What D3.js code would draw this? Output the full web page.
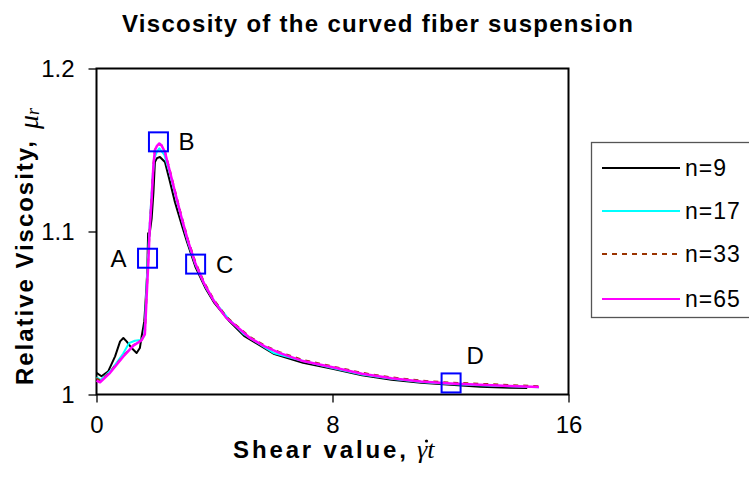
<!DOCTYPE html>
<html>
<head>
<meta charset="utf-8">
<script src="https://cdn.jsdelivr.net/npm/d3@7"></script>
<style>
body { margin: 0; background: #fff; }
text { font-family: Arial, "Liberation Sans", sans-serif; }
</style>
</head>
<body>
<script>
var w = 749;
var h = 481;

// series: shear value (x) and relative viscosity (y)
var seriesNames = ["n=9", "n=17", "n=33", "n=65"];

var n9X = [0, 0.17, 0.4, 0.63, 0.8, 0.91, 1.02, 1.19, 1.36, 1.47, 1.53, 1.59, 1.62, 1.66, 1.72, 1.75, 1.79, 1.87, 1.93, 1.98, 2.05, 2.15, 2.32, 2.49, 2.66, 2.89, 3.06, 3.36, 3.7, 4.0, 4.5, 5, 6, 7, 8, 9, 10, 11, 12, 13, 14, 14.6];
var n9Y = [1.0133, 1.0112, 1.0143, 1.0234, 1.0326, 1.0347, 1.0326, 1.0285, 1.0255, 1.0285, 1.0357, 1.0418, 1.045, 1.056, 1.075, 1.099, 1.097, 1.108, 1.124, 1.1426, 1.145, 1.1457, 1.1426, 1.1305, 1.118, 1.104, 1.094, 1.078, 1.065, 1.056, 1.045, 1.036, 1.025, 1.0195, 1.0158, 1.0118, 1.009, 1.0072, 1.006, 1.0048, 1.0041, 1.004];

var n17X = [0, 0.15, 0.5, 0.9, 1.1, 1.3, 1.5, 1.62, 1.66, 1.72, 1.78, 1.84, 1.9, 1.96, 2.05, 2.13, 2.3, 2.49, 2.66, 2.89, 3.1, 3.36, 3.7, 4.0, 4.5, 5, 6, 7, 8, 9, 10, 11, 12, 13, 14, 15];
var n17Y = [1.0105, 1.009, 1.015, 1.025, 1.0315, 1.033, 1.0335, 1.036, 1.05, 1.075, 1.097, 1.115, 1.133, 1.145, 1.149, 1.151, 1.147, 1.1355, 1.1235, 1.1075, 1.0935, 1.0795, 1.066, 1.057, 1.046, 1.037, 1.0255, 1.0205, 1.0163, 1.0123, 1.0097, 1.0077, 1.0065, 1.0057, 1.005, 1.0044];

var n33X = [0, 0.12, 0.46, 0.91, 1.25, 1.53, 1.64, 1.7, 1.76, 1.81, 1.87, 1.93, 1.98, 2.05, 2.13, 2.2, 2.32, 2.49, 2.66, 2.89, 3.11, 3.36, 3.65, 3.96, 4.4, 4.86, 5.2, 5.7, 6.2, 7, 8, 9, 10, 11, 12, 13, 14, 15];
var n33Y = [1.01, 1.0085, 1.0138, 1.0237, 1.0302, 1.0335, 1.0372, 1.062, 1.085, 1.105, 1.121, 1.1412, 1.15, 1.1523, 1.1535, 1.153, 1.149, 1.1372, 1.125, 1.1088, 1.0945, 1.0808, 1.0687, 1.0587, 1.0477, 1.0406, 1.0353, 1.03, 1.026, 1.0212, 1.0172, 1.0133, 1.0105, 1.0085, 1.0073, 1.0066, 1.0058, 1.0051];

var n65X = [0, 0.12, 0.46, 0.91, 1.25, 1.53, 1.64, 1.7, 1.76, 1.81, 1.87, 1.93, 1.98, 2.05, 2.13, 2.2, 2.32, 2.49, 2.66, 2.89, 3.11, 3.36, 3.65, 3.96, 4.4, 4.86, 5.2, 5.7, 6.2, 7, 8, 9, 10, 11, 12, 13, 14, 15];
var n65Y = [1.0085, 1.0075, 1.0133, 1.0234, 1.03, 1.0333, 1.037, 1.06, 1.0826, 1.104, 1.12, 1.1407, 1.15, 1.1525, 1.154, 1.153, 1.1488, 1.1366, 1.1244, 1.108, 1.0938, 1.08, 1.068, 1.058, 1.047, 1.04, 1.0347, 1.0295, 1.0255, 1.0205, 1.0167, 1.0127, 1.01, 1.008, 1.0068, 1.006, 1.0052, 1.0046];

var seriesColors = ["#000000", "#00ffff", "#993300", "#ff00ff"];

// marked points
var markLabels = ["A", "B", "C", "D"];
var markX = [1.73, 2.10, 3.36, 12.02];
var markY = [1.0836, 1.155, 1.080, 1.0071];

var xTicks = [0, 8, 16];
var yTicks = [1, 1.1, 1.2];

var series = [
    {name: seriesNames[0], xs: n9X, ys: n9Y, color: seriesColors[0], width: 2, dash: null},
    {name: seriesNames[1], xs: n17X, ys: n17Y, color: seriesColors[1], width: 2, dash: null},
    {name: seriesNames[2], xs: n33X, ys: n33Y, color: seriesColors[2], width: 2, dash: "5,5"},
    {name: seriesNames[3], xs: n65X, ys: n65Y, color: seriesColors[3], width: 2.5, dash: null}
];

var svg = d3.select("body")
    .append("svg")
    .attr("width", w)
    .attr("height", h);

var x = d3.scaleLinear().domain([0, 16]).range([96.5, 568.5]);
var y = d3.scaleLinear().domain([1, 1.2]).range([394.5, 68.5]);

var serif = "'Times New Roman', 'Liberation Serif', serif";

// title
svg.append("text")
    .attr("x", 122)
    .attr("y", 32)
    .attr("textLength", 511)
    .attr("lengthAdjust", "spacing")
    .style("font-size", "24px")
    .style("font-weight", "bold")
    .text("Viscosity of the curved fiber suspension");

// frame
svg.append("rect")
    .attr("x", x(0))
    .attr("y", y(1.2))
    .attr("width", x(16) - x(0))
    .attr("height", y(1) - y(1.2))
    .attr("fill", "none")
    .attr("stroke", "#000")
    .attr("stroke-width", 2);

var xAxis = d3.axisBottom(x).tickValues(xTicks).tickSize(8).tickPadding(13).tickFormat(d3.format("d"));
var yAxis = d3.axisLeft(y).tickValues(yTicks).tickSize(8).tickPadding(14).tickFormat(function(d){
    return d == 1 ? "1" : d3.format(".1f")(d);
});

var gx = svg.append("g")
    .attr("transform", "translate(0," + y(1) + ")")
    .call(xAxis);
var gy = svg.append("g")
    .attr("transform", "translate(" + x(0) + ",0)")
    .call(yAxis);

[gx, gy].forEach(function(g){
    g.select(".domain").remove();
    g.selectAll("line").attr("stroke", "#000").attr("stroke-width", 1.3);
    g.selectAll("text")
        .style("font-size", "24px")
        .style("font-family", "Arial, 'Liberation Sans', sans-serif")
        .attr("fill", "#000");
});

// axis titles
svg.append("text")
    .attr("x", 233)
    .attr("y", 458)
    .attr("textLength", 173)
    .attr("lengthAdjust", "spacing")
    .style("font-size", "24px")
    .style("font-weight", "bold")
    .text("Shear value,");
svg.append("text")
    .attr("x", 417)
    .attr("y", 458)
    .style("font-family", serif)
    .style("font-style", "italic")
    .style("font-size", "26px")
    .text("\u03b3t");
svg.append("circle")
    .attr("cx", 426.5)
    .attr("cy", 441)
    .attr("r", 1.6)
    .attr("fill", "#000");

var yt = svg.append("text")
    .attr("transform", "translate(33,385) rotate(-90)")
    .style("font-size", "24px")
    .style("font-weight", "bold");
yt.append("tspan").attr("textLength", 244).attr("lengthAdjust", "spacing").text("Relative Viscosity,");
yt.append("tspan")
    .attr("x", 256)
    .attr("dy", 5)
    .style("font-family", serif)
    .style("font-style", "italic")
    .style("font-weight", "normal")
    .style("font-size", "28px")
    .text("\u03bc");
yt.append("tspan")
    .attr("dy", 1)
    .style("font-family", serif)
    .style("font-style", "italic")
    .style("font-weight", "normal")
    .style("font-size", "18px")
    .text("r");

// lines
var line = d3.line()
    .x(function(d){ return x(d[0]); })
    .y(function(d){ return y(d[1]); });

series.forEach(function(s){
    var pts = s.xs.map(function(v, i){ return [v, s.ys[i]]; });
    svg.append("path")
        .datum(pts)
        .attr("d", line)
        .attr("fill", "none")
        .attr("stroke", s.color)
        .attr("stroke-width", s.width)
        .attr("stroke-dasharray", s.dash)
        .attr("stroke-linejoin", "round");
});

// marked points
var labelDx = [-29, 28, 29, 24];
var labelDy = [0, 0, 0, -28];
var marks = svg.selectAll(".mark")
    .data(markLabels)
    .enter()
    .append("g")
    .attr("class", "mark");
marks.append("rect")
    .attr("x", function(d, i){ return x(markX[i]) - 9.5; })
    .attr("y", function(d, i){ return y(markY[i]) - 9.5; })
    .attr("width", 19)
    .attr("height", 19)
    .attr("fill", "none")
    .attr("stroke", "#0000ff")
    .attr("stroke-width", 2);
marks.append("text")
    .attr("x", function(d, i){ return x(markX[i]) + labelDx[i]; })
    .attr("y", function(d, i){ return y(markY[i]) + labelDy[i]; })
    .attr("text-anchor", "middle")
    .attr("dy", "0.36em")
    .style("font-size", "24px")
    .text(function(d){ return d; });

// legend
var legend = svg.append("g");
legend.append("rect")
    .attr("x", 591.5)
    .attr("y", 142.5)
    .attr("width", 200)
    .attr("height", 175)
    .attr("fill", "#fff")
    .attr("stroke", "#555")
    .attr("stroke-width", 1.3);
var legendRowY = [168, 211, 254, 299];
var rows = legend.selectAll(".row")
    .data(series)
    .enter()
    .append("g")
    .attr("transform", function(d, i){ return "translate(0," + legendRowY[i] + ")"; });
rows.append("line")
    .attr("x1", 602)
    .attr("x2", 680)
    .attr("stroke", function(d){ return d.color; })
    .attr("stroke-width", 2)
    .attr("stroke-dasharray", function(d){ return d.dash; });
rows.append("text")
    .attr("x", 685)
    .attr("dy", "0.36em")
    .style("font-size", "23px")
    .style("letter-spacing", "1px")
    .text(function(d){ return d.name; });
</script>
</body>
</html>
